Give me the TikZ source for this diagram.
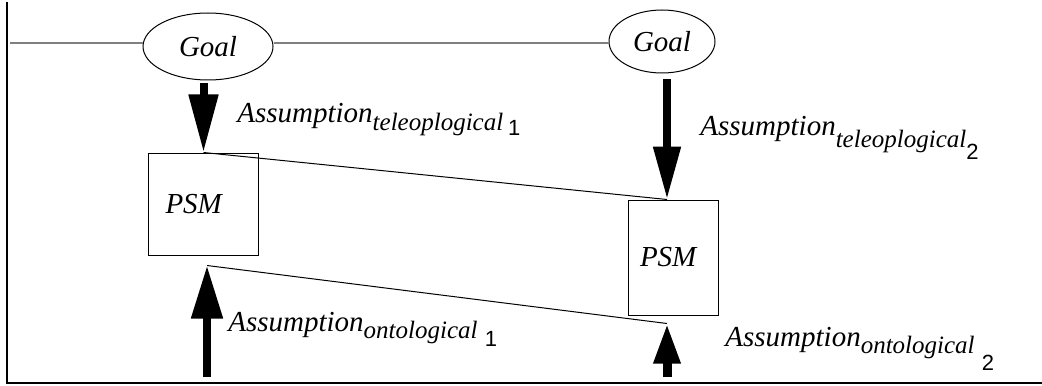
\documentclass[tikz,border=0pt]{standalone}
\usepackage{fontspec}
\setmainfont{Liberation Serif}
\setsansfont{Liberation Sans}
\usetikzlibrary{arrows.meta, positioning, shapes.geometric}

% lowered subscript word and index digit
\newcommand{\subtxt}[2]{\raisebox{-#2}{\fontsize{12.5}{13}\selectfont\itshape #1}}
\newcommand{\subnum}[2]{\raisebox{-#2}{\fontsize{11}{12}\selectfont\sffamily\upshape #1}}

\begin{document}
\begin{tikzpicture}[x=0.5pt, y=-0.5pt,
      goal/.style={draw, ellipse, line width=0.5pt, inner sep=0pt,
                   font=\fontsize{14.5}{16}\selectfont\itshape},
      psm/.style={draw, line width=0.5pt, inner ysep=0pt, align=left,
                  font=\fontsize{14.5}{16}\selectfont\itshape},
      bigarr/.style n args={3}{line width=#3, -{Triangle[length=#1, width=#2]}},
      thin/.style={line width=0.5pt},
      frame/.style={line width=1pt},
      lbl/.style={anchor=base west, inner sep=0pt,
                  font=\fontsize{14.5}{16}\selectfont}]

    \useasboundingbox (0,0) rectangle (1042,385);

    % frame
    \coordinate (tl) at (7,2);
    \coordinate (bl) at (7,383);
    \coordinate (br) at (1042,383);
    \draw[frame] (tl) -- (bl) -- (br);

    % goals on the gray line
    \node[goal, minimum width=65pt, minimum height=33.5pt] (goal1) at (208,46.5) {Goal};
    \node[goal, minimum width=53pt, minimum height=31.5pt] (goal2) at (662,41.5) {Goal};

    \coordinate (lstart) at (10,43);
    \draw[line width=0.7pt, black!50] (lstart) -- (lstart -| goal1.west);
    \draw[line width=0.7pt, black!50] (lstart -| goal1.east) -- (lstart -| goal2.west);

    % PSM boxes
    \node[psm, minimum height=51pt, inner xsep=8.5pt, text width=38pt] (psm1) at (203.5,204) {PSM};
    \node[psm, minimum height=57.5pt, inner xsep=6pt, text width=33pt] (psm2) at (673,257.5) {PSM};

    % arrow tips and feet
    \coordinate[left=3pt of psm2.north] (tel2);
    \coordinate[below right=5pt and 1.75pt of psm1.south] (ont1);
    \coordinate[below left=4pt and 3pt of psm2.south] (ont2);
    \coordinate (bot) at (0,377);

    % teleological assumptions
    \draw[bigarr={29pt}{14pt}{4pt}, shorten <=1.5pt] (psm1.north |- goal1.south) -- (psm1.north);
    \draw[bigarr={26.5pt}{13pt}{4pt}, shorten <=3pt] (tel2 |- goal2.south) -- (tel2);
    \draw[thin] (psm1.north) -- (tel2);

    % ontological assumptions
    \draw[bigarr={26.5pt}{15pt}{4pt}] (ont1 |- bot) -- (ont1);
    \draw[bigarr={20pt}{12.5pt}{4.5pt}] (ont2 |- bot) -- (ont2);
    \draw[thin] (ont1) -- (ont2);

    % labels
    \node[lbl] (asmtel1) at (237,122)
      {\itshape Assumption\subtxt{teleoplogical}{4pt}\,\subnum{1}{6.5pt}};
    \node[lbl] (asmtel2) at (700,135)
      {\itshape Assumption\subtxt{teleoplogical}{6pt}\subnum{2}{12pt}};
    \node[lbl] (asmont1) at (228,331)
      {\itshape Assumption\subtxt{ontological}{3.5pt}\ \subnum{1}{7.5pt}};
    \node[lbl] (asmont2) at (725,346)
      {\itshape Assumption\subtxt{ontological}{3.5pt}\ \subnum{2}{12pt}};

\end{tikzpicture}
\end{document}
